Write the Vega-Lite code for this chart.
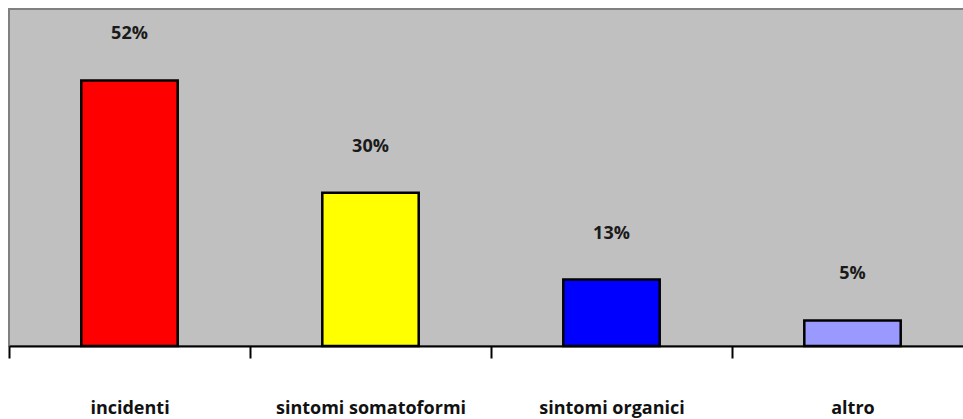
{
  "$schema": "https://vega.github.io/schema/vega-lite/v6.json",
  "autosize": {"type": "none"},
  "padding": {"left": 9, "top": 9, "right": 0, "bottom": 80},
  "width": 964,
  "height": 337,
  "background": "#ffffff",
  "config": {
    "view": {"fill": "#c0c0c0", "stroke": "#808080", "strokeWidth": 2},
    "font": "Open Sans"
  },
  "data": {
    "values": [
      {"categoria": "incidenti", "quota": 0.52, "colore": "#ff0000"},
      {"categoria": "sintomi somatoformi", "quota": 0.30, "colore": "#ffff00"},
      {"categoria": "sintomi organici", "quota": 0.13, "colore": "#0000ff"},
      {"categoria": "altro", "quota": 0.05, "colore": "#9999ff"}
    ]
  },
  "encoding": {
    "x": {
      "field": "categoria",
      "type": "nominal",
      "sort": null,
      "scale": {"paddingInner": 0.6, "paddingOuter": 0.3},
      "axis": {
        "title": null,
        "labelAngle": 0,
        "labelFont": "Open Sans",
        "labelFontWeight": "bold",
        "labelFontSize": 18,
        "labelColor": "#111111",
        "labelBaseline": "alphabetic",
        "labelPadding": 55,
        "labelLimit": 0,
        "domainColor": "#000000",
        "domainWidth": 2,
        "tickColor": "#000000",
        "tickWidth": 2,
        "tickSize": 12,
        "tickOffset": -120.5,
        "labelOffset": 120.5
      }
    },
    "y": {
      "field": "quota",
      "type": "quantitative",
      "scale": {"domain": [0, 0.66], "nice": false},
      "axis": null
    }
  },
  "layer": [
    {
      "mark": {"type": "bar", "stroke": "#000000", "strokeWidth": 2.5},
      "encoding": {
        "color": {"field": "colore", "type": "nominal", "scale": null, "legend": null}
      }
    },
    {
      "mark": {
        "type": "text",
        "baseline": "middle",
        "dy": -46,
        "font": "Open Sans",
        "fontWeight": "bold",
        "fontSize": 18,
        "color": "#1a1a1a"
      },
      "encoding": {
        "text": {"field": "quota", "type": "quantitative", "format": ".0%"}
      }
    }
  ]
}
